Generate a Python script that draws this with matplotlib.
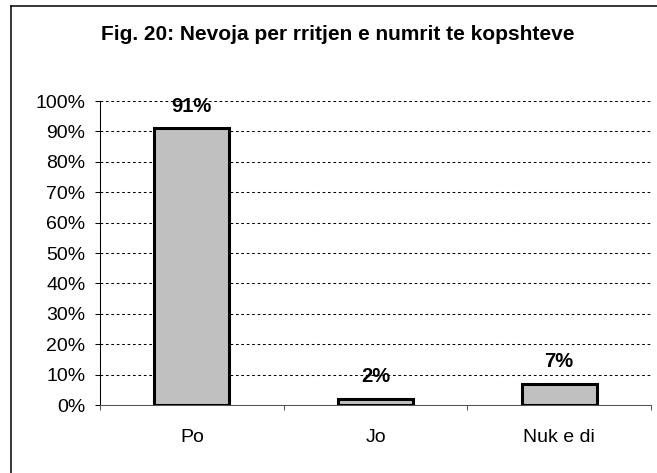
import numpy as np
import matplotlib
matplotlib.use("Agg")
import matplotlib.pyplot as plt
from matplotlib.lines import Line2D

categories = ["Po", "Jo", "Nuk e di"]
values = [91, 2, 7]
value_labels = ["91%", "2%", "7%"]
y_ticks = [0, 10, 20, 30, 40, 50, 60, 70, 80, 90, 100]
title = "Fig. 20: Nevoja per rritjen e numrit te kopshteve"

plt.rcParams["font.family"] = ["Liberation Sans", "DejaVu Sans"]

W, H = 657, 473
fig = plt.figure(figsize=(W / 100, H / 100), dpi=100)
ax = fig.add_axes([100 / W, 1 - 405 / H, 551 / W, 304 / H])

x = np.arange(len(categories))
ax.bar(x, values, width=0.41, color="#c0c0c0", edgecolor="black",
       linewidth=2.2, zorder=3)

for xi, v, lab in zip(x, values, value_labels):
    ax.annotate(lab, (xi, v), xytext=(0, 16), textcoords="offset points",
                ha="center", va="center", fontsize=14.5, fontweight="bold",
                zorder=4)

ax.set_xlim(-0.5, len(categories) - 0.5)
ax.set_ylim(0, 100)
ax.set_yticks(y_ticks)
ax.set_yticklabels([f"{t}%" for t in y_ticks], fontsize=14)
ax.yaxis.grid(True, color="black", linewidth=0.75, linestyle=(0, (2.6, 2.6)),
              zorder=1)
ax.tick_params(axis="y", direction="out", length=3.6, width=0.75, pad=7)

# category labels in the middle, ticks between categories
ax.set_xticks(x)
ax.set_xticklabels(categories, fontsize=14)
ax.tick_params(axis="x", which="major", length=0, pad=17)
ax.set_xticks(np.arange(-0.5, len(categories)), minor=True)
ax.tick_params(axis="x", which="minor", direction="out", length=3.6, width=0.75,
               color="#555555")

for s in ["top", "right"]:
    ax.spines[s].set_visible(False)
ax.spines["left"].set_linewidth(0.75)
ax.spines["bottom"].set_linewidth(0.75)
ax.spines["bottom"].set_color("#555555")

fig.text(338 / W, 1 - 34 / H, title, ha="center", va="center",
         fontsize=15, fontweight="bold")

# outer chart border (cut off on the right and bottom)
bx, by = 10.5 / W, 1 - 5.7 / H
fig.add_artist(Line2D([bx, bx], [0, by], transform=fig.transFigure,
                      color="black", linewidth=1.1))
fig.add_artist(Line2D([bx, 1], [by, by], transform=fig.transFigure,
                      color="black", linewidth=1.1))

fig.savefig("out.png", dpi=100)
